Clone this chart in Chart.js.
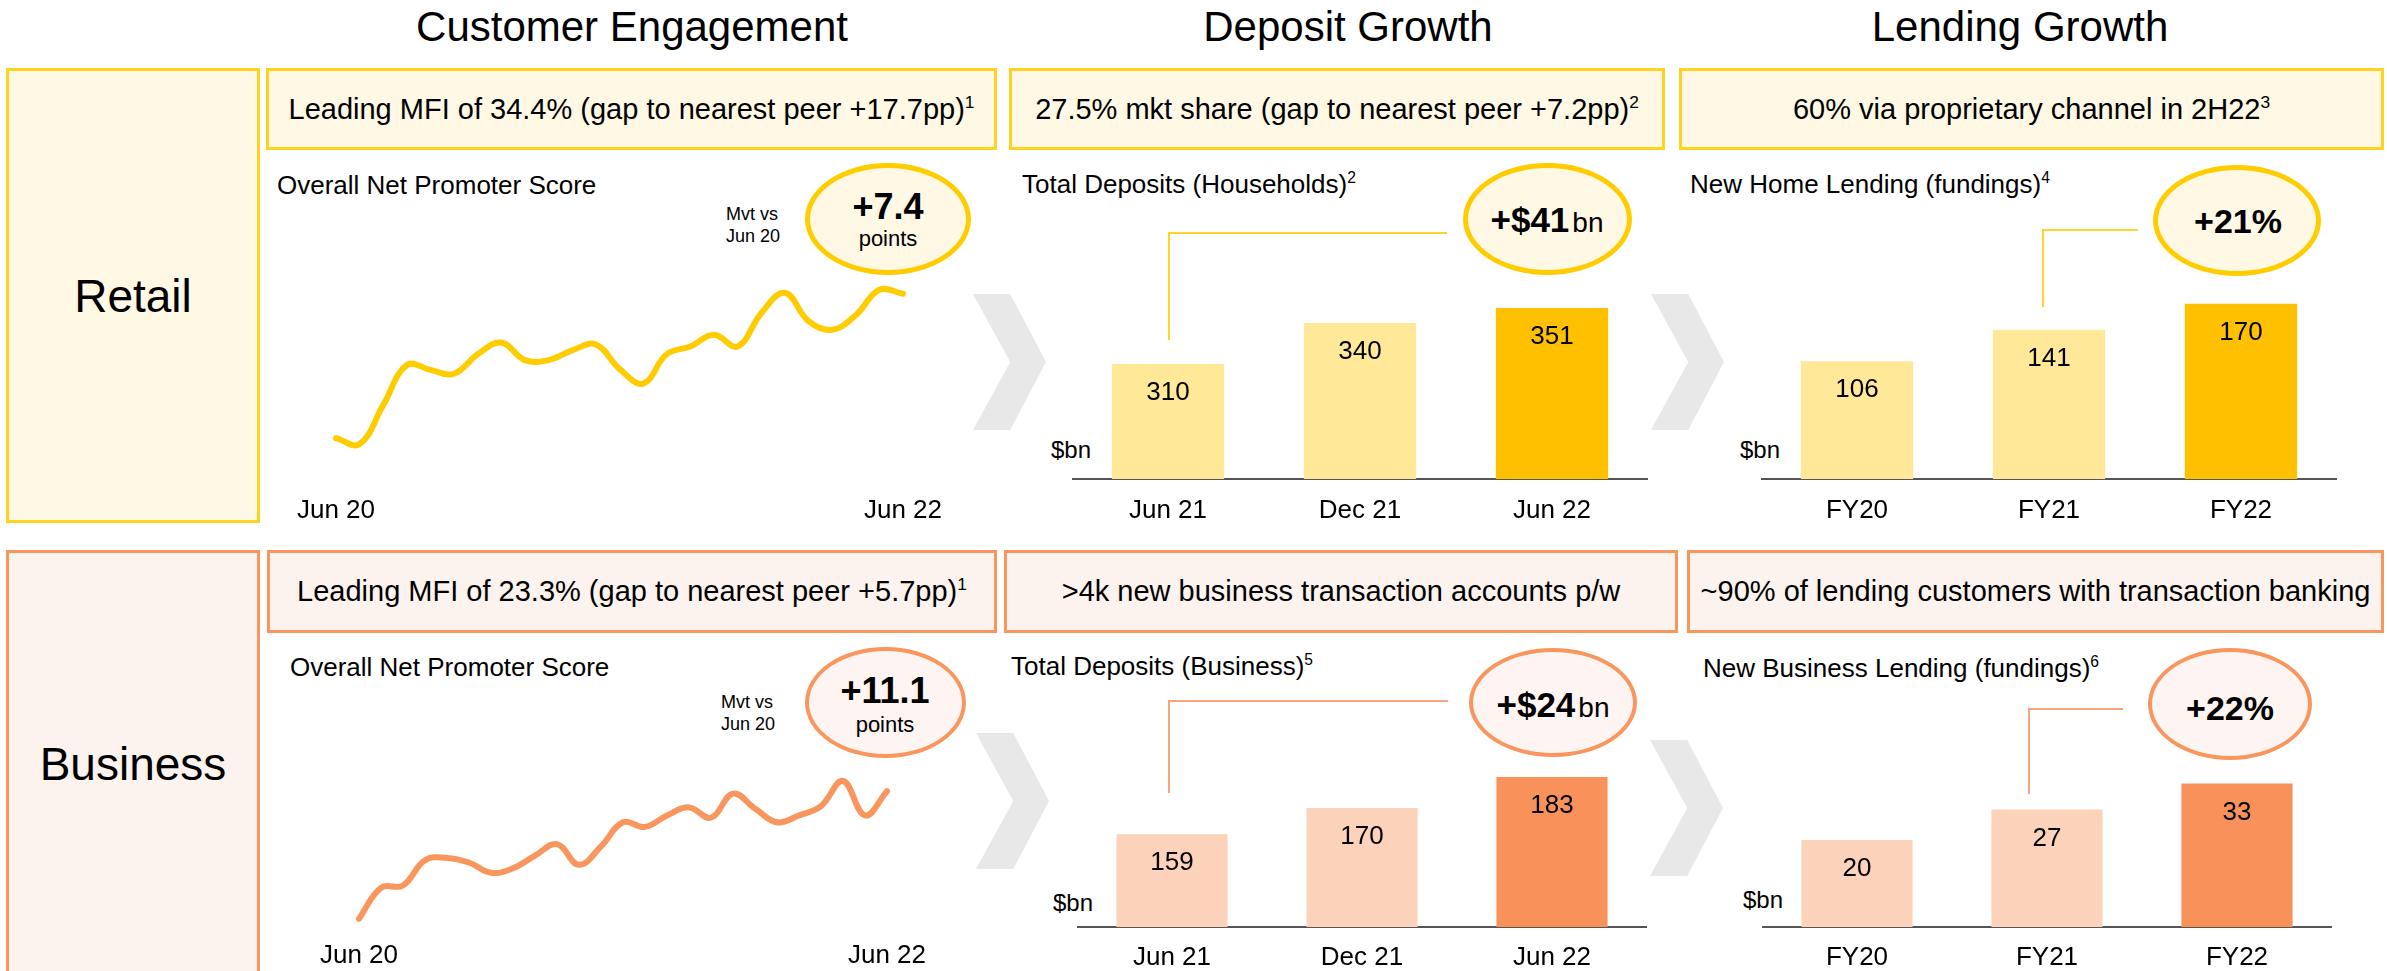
<!DOCTYPE html>
<html>
<head>
<meta charset="utf-8">
<script src="https://cdn.jsdelivr.net/npm/chart.js@4.4.0/dist/chart.umd.min.js"></script>
<style>
html, body { margin: 0; padding: 0; width: 2387px; height: 971px; overflow: hidden; background: #fff;
  font-family: "Liberation Sans", Arial, sans-serif; color: #000; }
.t { position: absolute; white-space: nowrap; line-height: 1; }
.c { transform: translateX(-50%); }
.box { position: absolute; box-sizing: border-box; border: 3px solid; display: flex;
  align-items: center; justify-content: center; white-space: nowrap; line-height: 1; }
.ret { border-color: #FFD21F; background: #FFF8E5; }
.bus { border-color: #F9965E; background: #FDF3EE; }
.hdr { font-size: 29px; }
.chev { position: absolute; width: 73px; height: 136px; background: #E8E8E8;
  clip-path: polygon(0 0, 51% 0, 100% 50%, 51% 100%, 0 100%, 51% 50%); }
.bub { position: absolute; box-sizing: border-box; border-radius: 50%; }
.bub.ret { border: 5px solid #FFCC00; background: #FFF8E5; }
.bub.bus { border: 4px solid #F9965E; background: #FEF4F1; }
.ln { position: absolute; }
.wrap { position: absolute; }
sup { font-size: 60%; line-height: 0; vertical-align: super; }
.big { font-weight: bold; font-size: 35px; }
.sm { font-size: 28px; margin-left: 3px; }
</style>
</head>
<body>

<!-- column titles -->
<div class="t c" style="left:632px;top:6px;font-size:42px">Customer Engagement</div>
<div class="t c" style="left:1348px;top:6px;font-size:42px">Deposit Growth</div>
<div class="t c" style="left:2020px;top:6px;font-size:42px">Lending Growth</div>

<!-- row labels -->
<div class="box ret" style="left:6px;top:68px;width:254px;height:455px;font-size:46px">Retail</div>
<div class="box bus" style="left:6px;top:550px;width:254px;height:428px;font-size:46px">Business</div>

<!-- headline boxes -->
<div class="box ret hdr" style="left:266px;top:68px;width:731px;height:82px"><span>Leading MFI of 34.4% (gap to nearest peer +17.7pp)<sup>1</sup></span></div>
<div class="box ret hdr" style="left:1009px;top:68px;width:656px;height:82px"><span>27.5% mkt share (gap to nearest peer +7.2pp)<sup>2</sup></span></div>
<div class="box ret hdr" style="left:1679px;top:68px;width:705px;height:82px"><span>60% via proprietary channel in 2H22<sup>3</sup></span></div>
<div class="box bus hdr" style="left:267px;top:550px;width:730px;height:83px"><span>Leading MFI of 23.3% (gap to nearest peer +5.7pp)<sup>1</sup></span></div>
<div class="box bus hdr" style="left:1004px;top:550px;width:674px;height:83px"><span>&gt;4k new business transaction accounts p/w</span></div>
<div class="box bus hdr" style="left:1687px;top:550px;width:697px;height:83px"><span>~90% of lending customers with transaction banking</span></div>

<!-- chart subtitles -->
<div class="t" style="left:277px;top:172px;font-size:26px">Overall Net Promoter Score</div>
<div class="t" style="left:1022px;top:171px;font-size:26px">Total Deposits (Households)<sup>2</sup></div>
<div class="t" style="left:1690px;top:171px;font-size:26px">New Home Lending (fundings)<sup>4</sup></div>
<div class="t" style="left:290px;top:654px;font-size:26px">Overall Net Promoter Score</div>
<div class="t" style="left:1011px;top:653px;font-size:26px">Total Deposits (Business)<sup>5</sup></div>
<div class="t" style="left:1703px;top:655px;font-size:26px">New Business Lending (fundings)<sup>6</sup></div>

<!-- chevrons -->
<div class="chev" style="left:973px;top:294px"></div>
<div class="chev" style="left:1651px;top:294px"></div>
<div class="chev" style="left:976px;top:733px"></div>
<div class="chev" style="left:1650px;top:740px"></div>

<!-- connector lines -->
<div class="ln" style="left:1168px;top:232px;width:279px;height:2px;background:#FFD42A"></div>
<div class="ln" style="left:1168px;top:232px;width:2px;height:108px;background:#FFD42A"></div>
<div class="ln" style="left:2042px;top:229px;width:96px;height:2px;background:#FFD42A"></div>
<div class="ln" style="left:2042px;top:229px;width:2px;height:78px;background:#FFD42A"></div>
<div class="ln" style="left:1168px;top:700px;width:280px;height:2px;background:#F9A47C"></div>
<div class="ln" style="left:1168px;top:700px;width:2px;height:93px;background:#F9A47C"></div>
<div class="ln" style="left:2028px;top:708px;width:95px;height:2px;background:#F9A47C"></div>
<div class="ln" style="left:2028px;top:708px;width:2px;height:86px;background:#F9A47C"></div>

<!-- bubbles -->
<div class="bub ret" style="left:805px;top:163px;width:166px;height:112px"></div>
<div class="bub ret" style="left:1463px;top:163px;width:169px;height:112px"></div>
<div class="bub ret" style="left:2153px;top:165px;width:168px;height:111px"></div>
<div class="bub bus" style="left:805px;top:647px;width:161px;height:111px"></div>
<div class="bub bus" style="left:1469px;top:648px;width:168px;height:109px"></div>
<div class="bub bus" style="left:2148px;top:648px;width:164px;height:112px"></div>

<div class="t c" style="left:888px;top:189px;font-size:36px;font-weight:bold">+7.4</div>
<div class="t c" style="left:888px;top:228px;font-size:22px">points</div>
<div class="t" style="left:726px;top:205px;font-size:18px">Mvt vs</div>
<div class="t" style="left:726px;top:227px;font-size:18px">Jun 20</div>

<div class="t c" style="left:885px;top:673px;font-size:36px;font-weight:bold">+11.1</div>
<div class="t c" style="left:885px;top:714px;font-size:22px">points</div>
<div class="t" style="left:721px;top:693px;font-size:18px">Mvt vs</div>
<div class="t" style="left:721px;top:715px;font-size:18px">Jun 20</div>

<div class="t c" style="left:1547px;top:202px"><span class="big">+$41</span><span class="sm">bn</span></div>
<div class="t c" style="left:1553px;top:687px"><span class="big">+$24</span><span class="sm">bn</span></div>
<div class="t c" style="left:2238px;top:204px;font-size:34px;font-weight:bold">+21%</div>
<div class="t c" style="left:2230px;top:691px;font-size:34px;font-weight:bold">+22%</div>

<!-- unit labels -->
<div class="t" style="left:1051px;top:438px;font-size:24px">$bn</div>
<div class="t" style="left:1740px;top:438px;font-size:24px">$bn</div>
<div class="t" style="left:1053px;top:891px;font-size:24px">$bn</div>
<div class="t" style="left:1743px;top:888px;font-size:24px">$bn</div>

<!-- charts -->
<div class="wrap" style="left:286px;top:282px;width:667px;height:253px"><canvas id="retailNpsChart"></canvas></div>
<div class="wrap" style="left:309px;top:758px;width:628px;height:218px"><canvas id="businessNpsChart"></canvas></div>
<div class="wrap" style="left:1072px;top:230px;width:576px;height:313px"><canvas id="retailDepositChart"></canvas></div>
<div class="wrap" style="left:1761px;top:230px;width:576px;height:313px"><canvas id="homeLendingChart"></canvas></div>
<div class="wrap" style="left:1077px;top:700px;width:570px;height:289px"><canvas id="businessDepositChart"></canvas></div>
<div class="wrap" style="left:1762px;top:700px;width:570px;height:289px"><canvas id="businessLendingChart"></canvas></div>

<script>
// monthly NPS, movement vs Jun 20 (points)
const npsMonths = ['Jun 20', 'Jul 20', 'Aug 20', 'Sep 20', 'Oct 20', 'Nov 20', 'Dec 20',
    'Jan 21', 'Feb 21', 'Mar 21', 'Apr 21', 'May 21', 'Jun 21', 'Jul 21', 'Aug 21', 'Sep 21',
    'Oct 21', 'Nov 21', 'Dec 21', 'Jan 22', 'Feb 22', 'Mar 22', 'Apr 22', 'May 22', 'Jun 22'];
const retailNps = [0, -0.3, 1.7, 3.75, 3.5, 3.3, 4.3, 4.9, 4.0, 4.0, 4.5, 4.8, 3.55,
    2.8, 4.3, 4.7, 5.3, 4.7, 6.4, 7.45, 6.0, 5.55, 6.3, 7.6, 7.4];
const businessNps = [0, 2.7, 2.9, 5.1, 5.3, 4.9, 4.0, 4.4, 5.5, 6.5, 4.7, 6.3, 8.4,
    8.0, 9.0, 9.7, 8.8, 10.9, 9.6, 8.4, 9.0, 9.8, 12.0, 9.0, 11.1];

const depositPeriods = ['Jun 21', 'Dec 21', 'Jun 22'];
const retailDeposits = [310, 340, 351];
const businessDeposits = [159, 170, 183];

const lendingYears = ['FY20', 'FY21', 'FY22'];
const homeLending = [106, 141, 170];
const businessLending = [20, 27, 33];

Chart.defaults.font.family = '"Liberation Sans", Arial, sans-serif';
Chart.defaults.color = '#000';

// value printed inside the top of each bar
const barValueLabels = {
    id: 'barValueLabels',
    afterDatasetsDraw(chart) {
        const ctx = chart.ctx;
        const values = chart.data.datasets[0].data;
        ctx.save();
        ctx.font = '26px "Liberation Sans", Arial, sans-serif';
        ctx.fillStyle = '#000';
        ctx.textAlign = 'center';
        ctx.textBaseline = 'middle';
        chart.getDatasetMeta(0).data.forEach(function (bar, i) {
            ctx.fillText(values[i], bar.x, bar.y + 29);
        });
        ctx.restore();
    }
};

function npsChart(id, values, color, yMin, yMax, pad) {
    new Chart(document.getElementById(id), {
        type: 'line',
        data: {
            labels: npsMonths,
            datasets: [{
                data: values,
                borderColor: color,
                borderWidth: 6,
                tension: 0.4,
                pointRadius: 0,
                borderCapStyle: 'round',
                borderJoinStyle: 'round',
                fill: false,
                clip: false
            }]
        },
        options: {
            responsive: true,
            maintainAspectRatio: false,
            animation: false,
            layout: { padding: { left: 50, right: 50, top: 0, bottom: 0 } },
            plugins: { legend: { display: false }, tooltip: { enabled: false } },
            scales: {
                x: {
                    grid: { display: false, drawTicks: false },
                    border: { display: false },
                    ticks: {
                        autoSkip: false, maxRotation: 0, minRotation: 0, padding: pad,
                        font: { size: 26, lineHeight: '30px' },
                        callback: function (v, i) {
                            return (i === 0 || i === npsMonths.length - 1) ? this.getLabelForValue(v) : '';
                        }
                    }
                },
                y: { display: false, min: yMin, max: yMax }
            }
        }
    });
}

function barChart(id, labels, values, colors, yMin, yMax, pad) {
    new Chart(document.getElementById(id), {
        type: 'bar',
        data: {
            labels: labels,
            datasets: [{
                data: values,
                backgroundColor: colors,
                base: yMin,
                barPercentage: 0.585,
                categoryPercentage: 1
            }]
        },
        options: {
            responsive: true,
            maintainAspectRatio: false,
            animation: false,
            layout: { padding: 0 },
            plugins: { legend: { display: false }, tooltip: { enabled: false } },
            scales: {
                x: {
                    grid: { display: false, drawTicks: false },
                    border: { display: true, color: '#555555', width: 2 },
                    ticks: { padding: pad, font: { size: 26, lineHeight: '30px' } }
                },
                y: { display: false, min: yMin, max: yMax }
            }
        },
        plugins: [barValueLabels]
    });
}

const retailBars = ['#FFE999', '#FFE999', '#FFC000'];
const businessBars = ['#FCD2BA', '#FCD2BA', '#F9925A'];

npsChart('retailNpsChart', retailNps, '#FFCC00', -2.5, 8, 9);
npsChart('businessNpsChart', businessNps, '#F9965E', -1.5, 14, 5);
barChart('retailDepositChart', depositPeriods, retailDeposits, retailBars, 226, 408, 17);
barChart('homeLendingChart', lendingYears, homeLending, retailBars, -25, 252, 17);
barChart('businessDepositChart', depositPeriods, businessDeposits, businessBars, 120, 215.4, 16);
barChart('businessLendingChart', lendingYears, businessLending, businessBars, 0, 52.2, 16);
</script>
</body>
</html>
